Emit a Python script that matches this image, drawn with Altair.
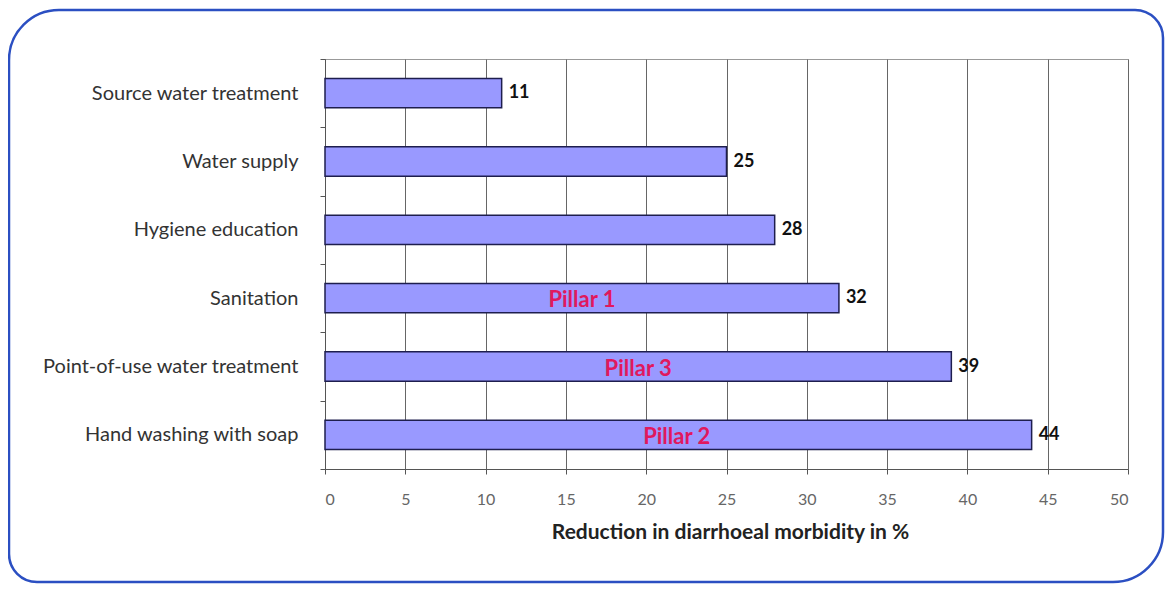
import altair as alt
import pandas as pd

categories = ["Source water treatment", "Water supply", "Hygiene education",
              "Sanitation", "Point-of-use water treatment", "Hand washing with soap"]
values = [11, 25, 28, 32, 39, 44]

pillar_cats = ["Sanitation", "Point-of-use water treatment", "Hand washing with soap"]
pillar_labels = ["Pillar 1", "Pillar 3", "Pillar 2"]
pillar_pos = [16.0, 19.5, 21.9]

x_title = "Reduction in diarrhoeal morbidity in %"

df = pd.DataFrame({"cat": categories, "val": values})
dp = pd.DataFrame({"cat": pillar_cats, "label": pillar_labels, "pos": pillar_pos})

FONT = "Lato"

yscale = alt.Scale(domain=categories, paddingInner=0, paddingOuter=0)
xscale = alt.Scale(domain=[0, 50], nice=False)

x_axis = alt.Axis(values=list(range(0, 51, 5)), grid=True, gridColor="#666666",
                  gridWidth=1, domainColor="#555555", tickColor="#555555",
                  tickSize=5, labelColor="#666666", labelFontSize=16,
                  labelFont=FONT, labelPadding=17, title=x_title,
                  titleFont=FONT, titleFontSize=21, titleFontWeight="bold",
                  titleColor="#222222", titlePadding=14, titleX=405)
y_axis = alt.Axis(title=None, tickBand="extent", tickColor="#555555", tickSize=5,
                  domainColor="#555555", labelColor="#333333", labelFontSize=20,
                  labelFont=FONT, labelPadding=22, labelLimit=0, grid=False)

border = alt.Chart(pd.DataFrame({"a": [1]})).mark_rect(
    fill=None, stroke="#2b4fc2", strokeWidth=2.5,
    cornerRadiusTopLeft=50, cornerRadiusBottomRight=50,
    cornerRadiusTopRight=28, cornerRadiusBottomLeft=28,
).encode(x=alt.value(-316), x2=alt.value(838), y=alt.value(-49), y2=alt.value(523))

bars = alt.Chart(df).mark_bar(
    height={"band": 0.43}, fill="#9999ff", stroke="#1e1e4e", strokeWidth=1.5
).encode(
    y=alt.Y("cat:N", scale=yscale, axis=y_axis, sort=categories),
    x=alt.X("val:Q", scale=xscale, axis=x_axis),
)

vals = alt.Chart(df).mark_text(
    align="left", dx=7, font=FONT, fontSize=18, fontWeight="bold", color="#111111"
).encode(
    y=alt.Y("cat:N", scale=yscale, sort=categories),
    x=alt.X("val:Q", scale=xscale),
    text="val:Q",
)

pillars = alt.Chart(dp).mark_text(
    align="center", dy=2, font=FONT, fontSize=22, fontWeight="bold", color="#e0185e"
).encode(
    y=alt.Y("cat:N", scale=yscale, sort=categories),
    x=alt.X("pos:Q", scale=xscale),
    text="label:N",
)

chart = alt.layer(border, bars, vals, pillars).properties(
    width=803, height=410,
    autosize=alt.AutoSizeParams(type="none"),
    padding={"left": 317, "top": 51, "right": 37, "bottom": 115},
    background="#ffffff",
).configure_view(stroke="#999999", strokeWidth=1)

chart.save("out.html", embed_options={"renderer": "svg", "actions": False})
